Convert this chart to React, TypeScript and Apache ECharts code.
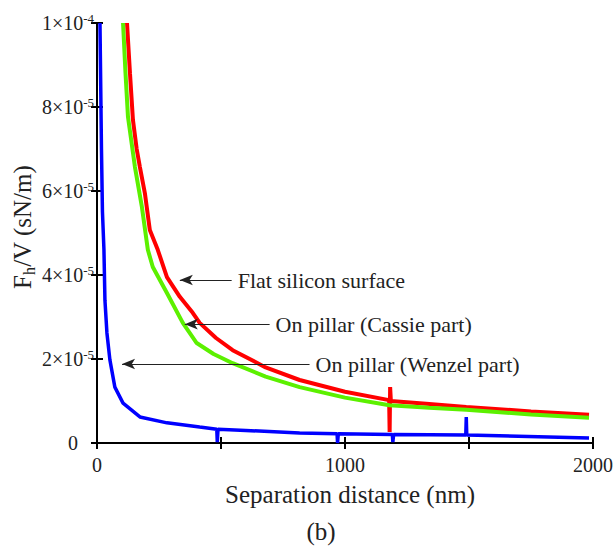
import React, { useEffect, useRef } from "react";
import * as echarts from "echarts";

// x in nm, y in units of 1e-5 sN/m
const flatSilicon: [number, number][] = [
  [121, 10.0], [133, 8.8], [145, 7.69], [160, 7.0], [173, 6.57], [193, 5.95], [213, 5.07],
  [245, 4.6], [282, 3.95], [334, 3.48], [386, 3.1], [414, 2.86], [480, 2.5],
  [547, 2.21], [680, 1.8], [817, 1.5], [1000, 1.22], [1178, 1.02], [1180, 0.26], [1182, 1.33],
  [1185, 1.0], [1340, 0.93], [1489, 0.86], [1750, 0.75], [1984, 0.67]
];
const cassie: [number, number][] = [
  [105, 10.0], [115, 8.8], [125, 7.76], [153, 6.57], [181, 5.62], [205, 4.6], [225, 4.19],
  [282, 3.57], [346, 2.86], [402, 2.38], [470, 2.12], [547, 1.9], [680, 1.58], [817, 1.33],
  [1000, 1.08], [1179, 0.9], [1340, 0.84], [1489, 0.79], [1750, 0.68], [1984, 0.6]
];
const wenzel: [number, number][] = [
  [12, 10.0], [18, 7.0], [22, 5.5], [28, 4.6], [32, 3.4], [40, 2.62], [52, 1.98], [72, 1.33],
  [105, 0.95], [173, 0.62], [282, 0.48], [414, 0.38], [483, 0.33], [485, 0.02], [488, 0.33],
  [600, 0.3], [817, 0.24], [968, 0.22], [970, 0.0], [973, 0.22], [1191, 0.2], [1193, 0.02],
  [1196, 0.2], [1487, 0.19], [1489, 0.62], [1491, 0.19], [1984, 0.12]
];

const annotations = [
  { text: "Flat silicon surface", tip: [334, 3.88], end: [543, 3.88] },
  { text: "On pillar (Cassie part)", tip: [354, 2.83], end: [696, 2.83] },
  { text: "On pillar (Wenzel part)", tip: [101, 1.88], end: [857, 1.88] },
];

const SCALE = 1e-5;
const FONT = "Liberation Serif";

export default function App() {
  const ref = useRef<HTMLDivElement>(null);
  useEffect(() => {
    const chart = echarts.init(ref.current!, undefined, { renderer: "svg" });
    const toData = (arr: [number, number][]) => arr.map(([x, y]) => [x, y * SCALE]);
    const axisLine = { show: true, lineStyle: { color: "#000", width: 2 } };
    const axisTick = { show: true, inside: true, length: 6, lineStyle: { color: "#000", width: 2 } };
    const yFmt = (v: number) => {
      const n = Math.round(v / SCALE);
      if (n === 0) return "{z|0}";
      if (n === 10) return "{a|1×10}{s|-4}";
      return `{a|${n}×10}{s|-5}`;
    };
    chart.setOption({
      animation: false,
      backgroundColor: "#fff",
      grid: { left: 97, right: 22, top: 23, bottom: 110, containLabel: false },
      xAxis: [
        {
          type: "value", min: 0, max: 2000, interval: 500, position: "bottom",
          axisLine, axisTick, splitLine: { show: false },
          axisLabel: {
            formatter: (v: number) => (v % 1000 === 0 ? String(v) : ""),
            color: "#222", fontFamily: FONT, fontSize: 20, margin: 12,
          },
        },
        {
          type: "value", min: 0, max: 2000, interval: 500, position: "top",
          axisLine, axisTick, splitLine: { show: false }, axisLabel: { show: false },
        },
      ],
      yAxis: [
        {
          type: "value", min: 0, max: 1e-4, interval: 2e-5, position: "left",
          axisLine, axisTick, splitLine: { show: false },
          axisLabel: {
            formatter: yFmt, margin: 3,
            rich: {
              a: { fontFamily: FONT, fontSize: 20, color: "#222", lineHeight: 22 },
              s: { fontFamily: FONT, fontSize: 13, color: "#222", verticalAlign: "top", padding: [0, 0, 9, 0] },
              z: { fontFamily: FONT, fontSize: 20, color: "#222", padding: [0, 16, 0, 0] },
            },
          },
        },
        {
          type: "value", min: 0, max: 1e-4, interval: 2e-5, position: "right",
          axisLine, axisTick, splitLine: { show: false }, axisLabel: { show: false },
        },
      ],
      series: [
        {
          type: "line", name: "Flat silicon surface", data: toData(flatSilicon), showSymbol: false,
          lineStyle: { color: "#ff0000", width: 4 }, z: 2,
        },
        {
          type: "line", name: "On pillar (Cassie part)", data: toData(cassie), showSymbol: false,
          lineStyle: { color: "#5cf000", width: 4 }, z: 3,
        },
        {
          type: "line", name: "On pillar (Wenzel part)", data: toData(wenzel), showSymbol: false,
          lineStyle: { color: "#0000ff", width: 3.5 }, z: 4,
          markLine: {
            silent: true,
            symbol: ["arrow", "none"],
            symbolSize: [8, 13],
            lineStyle: { color: "#222", width: 1.2, type: "solid" },
            label: {
              show: true, position: "end", distance: 6, color: "#222",
              fontFamily: FONT, fontSize: 22,
              formatter: (p: any) => p.name,
            },
            data: annotations.map((a) => [
              { name: a.text, coord: [a.tip[0], a.tip[1] * SCALE] },
              { coord: [a.end[0], a.end[1] * SCALE] },
            ]),
          },
        },
      ],
      graphic: [
        {
          type: "text", x: 22, y: 227, rotation: Math.PI / 2,
          style: {
            text: "{a|F}{s|h}{a|/V (sN/m)}",
            align: "center", verticalAlign: "middle",
            rich: {
              a: { fontFamily: FONT, fontSize: 25, fill: "#222", lineHeight: 30 },
              s: { fontFamily: FONT, fontSize: 16, fill: "#222", verticalAlign: "bottom", padding: [12, 0, 0, 0] },
            },
          },
        },
        {
          type: "text", x: 350, y: 494,
          style: {
            text: "Separation distance (nm)", fontFamily: FONT, fontSize: 25, fill: "#222",
            align: "center", verticalAlign: "middle",
          },
        },
        {
          type: "text", x: 321, y: 531,
          style: {
            text: "(b)", fontFamily: FONT, fontSize: 25, fill: "#222",
            align: "center", verticalAlign: "middle",
          },
        },
      ],
    });
    return () => chart.dispose();
  }, []);
  return <div ref={ref} style={{ width: 616, height: 553, position: "absolute", left: 0, top: 0 }} />;
}
